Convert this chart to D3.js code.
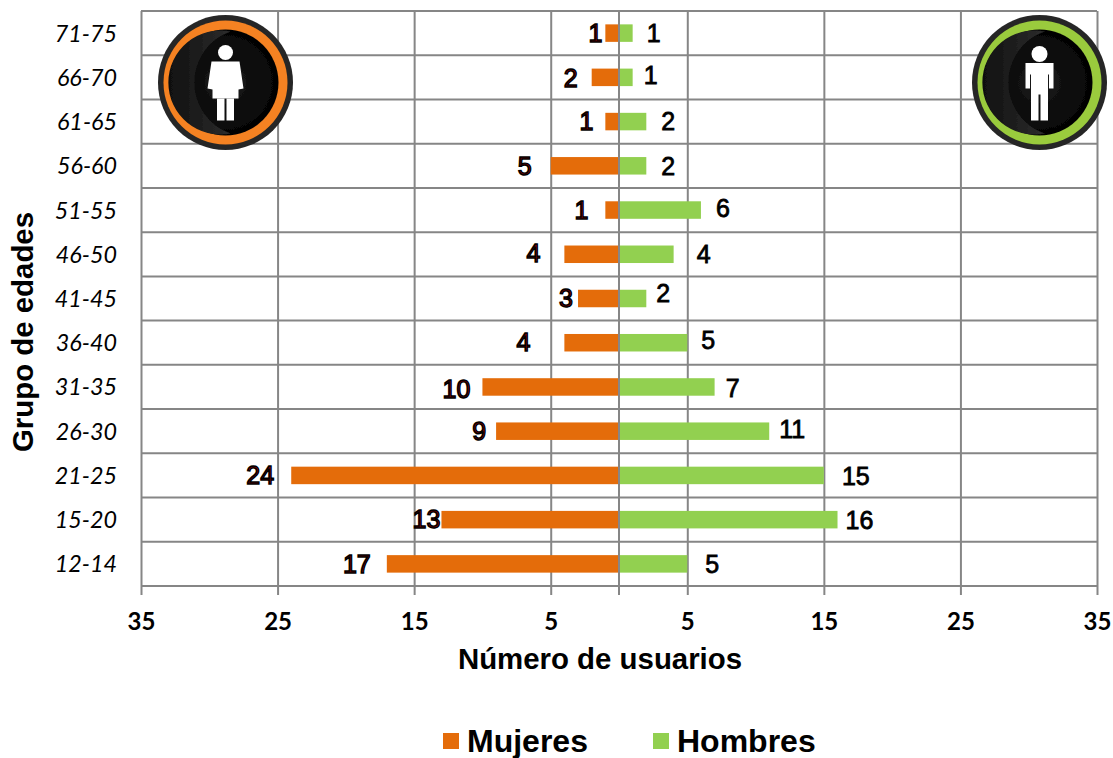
<!DOCTYPE html>
<html>
<head>
<meta charset="utf-8">
<script src="https://cdn.jsdelivr.net/npm/d3@7"></script>
<style>
  html, body { margin: 0; background: #fff; }
  svg { display: block; }
</style>
</head>
<body>
<svg id="chart" width="1113" height="758"></svg>
<script>
// Values, top row first
const ageGroups = ['71-75', '66-70', '61-65', '56-60', '51-55', '46-50', '41-45', '36-40', '31-35', '26-30', '21-25', '15-20', '12-14'];
const mujeres = [1, 2, 1, 5, 1, 4, 3, 4, 10, 9, 24, 13, 17];
const hombres = [1, 1, 2, 2, 6, 4, 2, 5, 7, 11, 15, 16, 5];
const xTicks = [-35, -25, -15, -5, 5, 15, 25, 35];

// Hand-placed data labels in the original, so their gaps are not regular
const mujeresGap = [10, 21, 19, 26, 24, 31, 12, 41, 26, 17, 31, 15, 30];
const hombresGap = [21, 18, 22, 22, 22, 30, 17, 21, 18, 23, 32, 22, 25];
const mujeresDy = [0, 1, 0, 0, 0, -1, 0, 0, 2, 0, 0, 0, 0];
const hombresDy = [0, -2, 0, 0, -2, 0, -5, -2, 1, -2, 1, 1, 0];

const colors = { mujeres: '#e46c0a', hombres: '#92d050', grid: '#868686' };
const margin = { top: 11, right: 16, bottom: 172, left: 141 };
const width = 1113, height = 758;

const svg = d3.select('#chart');

const x = d3.scaleLinear().domain([-35, 35]).range([margin.left, width - margin.right]);
const y = d3.scaleBand().domain(ageGroups).range([margin.top, height - margin.bottom]).paddingInner(0).paddingOuter(0);
const barHeight = 17.5;
const barY = d => y(d) + (y.bandwidth() - barHeight) / 2;

// Grid: one line per band edge, plus the vertical ticks running past the bottom
svg.append('g').selectAll('line')
    .data(d3.range(ageGroups.length + 1))
    .join('line')
    .attr('x1', margin.left)
    .attr('x2', width - margin.right)
    .attr('y1', i => margin.top + i * y.bandwidth())
    .attr('y2', i => margin.top + i * y.bandwidth())
    .attr('stroke', colors.grid)
    .attr('stroke-width', 2);

const xAxis = d3.axisBottom(x)
    .tickValues(xTicks)
    .tickSize(height - margin.bottom - margin.top + 9)
    .tickPadding(18)
    .tickFormat(d => Math.abs(d));

const xAxisG = svg.append('g')
    .attr('transform', `translate(0,${margin.top})`)
    .call(xAxis);
xAxisG.select('.domain').remove();
xAxisG.selectAll('line').attr('stroke', colors.grid).attr('stroke-width', 2);
xAxisG.selectAll('text')
    .attr('fill', '#000')
    .style('font', 'bold 24px Lato, sans-serif');

// Age labels
const yAxis = d3.axisLeft(y).tickSize(0).tickPadding(24);
const yAxisG = svg.append('g')
    .attr('transform', `translate(${margin.left},1)`)
    .call(yAxis);
yAxisG.select('.domain').remove();
yAxisG.selectAll('text')
    .attr('fill', '#000')
    .style('font', 'italic 23.3px Lato, sans-serif');

// Bars
svg.append('g').selectAll('rect')
    .data(ageGroups)
    .join('rect')
    .attr('x', (d, i) => x(-mujeres[i]))
    .attr('y', barY)
    .attr('width', (d, i) => x(0) - x(-mujeres[i]))
    .attr('height', barHeight)
    .attr('fill', colors.mujeres);

svg.append('g').selectAll('rect')
    .data(ageGroups)
    .join('rect')
    .attr('x', x(0))
    .attr('y', barY)
    .attr('width', (d, i) => x(hombres[i]) - x(0))
    .attr('height', barHeight)
    .attr('fill', colors.hombres);

// Centre line runs over the bars
svg.append('line')
    .attr('x1', x(0)).attr('x2', x(0))
    .attr('y1', margin.top).attr('y2', height - margin.bottom + 9)
    .attr('stroke', colors.grid).attr('stroke-width', 2);

// Data labels
svg.append('g').selectAll('text')
    .data(ageGroups)
    .join('text')
    .attr('x', (d, i) => x(-mujeres[i]) - mujeresGap[i])
    .attr('y', (d, i) => y(d) + y.bandwidth() / 2 + mujeresDy[i])
    .attr('dy', '0.35em')
    .attr('text-anchor', 'middle')
    .attr('fill', '#800000')
    .attr('stroke', '#000')
    .attr('stroke-width', 1.4)
    .style('font', '25px "Liberation Sans", Arial, sans-serif')
    .text((d, i) => mujeres[i]);

svg.append('g').selectAll('text')
    .data(ageGroups)
    .join('text')
    .attr('x', (d, i) => x(hombres[i]) + hombresGap[i])
    .attr('y', (d, i) => y(d) + y.bandwidth() / 2 + hombresDy[i])
    .attr('dy', '0.35em')
    .attr('text-anchor', 'middle')
    .attr('fill', '#000')
    .attr('stroke', '#000')
    .attr('stroke-width', 0.8)
    .style('font', '25px "Liberation Sans", Arial, sans-serif')
    .text((d, i) => hombres[i]);

// Axis titles
svg.append('text')
    .attr('x', 600).attr('y', 669)
    .attr('text-anchor', 'middle')
    .style('font', 'bold 29.4px "Liberation Sans", Arial, sans-serif')
    .text('Número de usuarios');

svg.append('text')
    .attr('transform', 'translate(33,332) rotate(-90)')
    .attr('text-anchor', 'middle')
    .style('font', 'bold 29.4px "Liberation Sans", Arial, sans-serif')
    .text('Grupo de edades');

// Legend
const legendItems = [
    { label: 'Mujeres', color: colors.mujeres, boxX: 443, textX: 467 },
    { label: 'Hombres', color: colors.hombres, boxX: 653, textX: 677 }
];
const legend = svg.append('g').selectAll('g').data(legendItems).join('g');
legend.append('rect')
    .attr('x', d => d.boxX).attr('y', 733)
    .attr('width', 16).attr('height', 16)
    .attr('fill', d => d.color);
legend.append('text')
    .attr('x', d => d.textX).attr('y', 752)
    .style('font', 'bold 32px "Liberation Sans", Arial, sans-serif')
    .text(d => d.label);

// Badges in the top corners
const defs = svg.append('defs');
const sheen = defs.append('linearGradient').attr('id', 'badgeSheen');
sheen.append('stop').attr('offset', '0%').attr('stop-color', '#101010');
sheen.append('stop').attr('offset', '100%').attr('stop-color', '#2c2c2c');
const core = defs.append('radialGradient').attr('id', 'badgeCore');
core.append('stop').attr('offset', '0%').attr('stop-color', '#1a1a1a');
core.append('stop').attr('offset', '100%').attr('stop-color', '#040404');
defs.append('filter').attr('id', 'soft')
    .append('feGaussianBlur').attr('stdDeviation', 0.6);

function badge(cx, cy, ringColor, person) {
    const g = svg.append('g')
        .attr('transform', `translate(${cx},${cy})`)
        .attr('filter', 'url(#soft)');
    g.append('circle').attr('r', 67.5).attr('fill', '#262626');
    g.append('circle').attr('r', 62).attr('fill', ringColor);
    g.append('circle').attr('r', 53).attr('fill', 'url(#badgeCore)');
    // lighter crescent on the left side
    g.append('path')
        .attr('d', 'M5,-51 A52,52 0 1,0 5,51 A54,54 0 0,1 5,-51 Z')
        .attr('fill', 'url(#badgeSheen)');
    person(g.append('g').attr('fill', '#fff'));
}

badge(225.5, 82.5, '#f58220', p => {
    p.append('circle').attr('cy', -30).attr('r', 7.5);
    p.append('path').attr('d', 'M-14,-21 L14,-21 L18,6 L13,7 L13,16 L-13,16 L-13,7 L-18,6 Z');
    p.append('rect').attr('x', -8.5).attr('y', 16).attr('width', 7.5).attr('height', 22);
    p.append('rect').attr('x', 1).attr('y', 16).attr('width', 7.5).attr('height', 22);
});

badge(1039.5, 82.5, '#9acb3c', p => {
    p.append('circle').attr('cy', -28.5).attr('r', 8);
    p.append('path').attr('d', 'M-14,-19.5 L14,-19.5 L14,6 L9.5,6 L9.5,-8 L8.5,-8 L8.5,38 L1,38 L1,12 L-1,12 L-1,38 L-8.5,38 L-8.5,-8 L-9.5,-8 L-9.5,6 L-14,6 Z');
});
</script>
</body>
</html>
